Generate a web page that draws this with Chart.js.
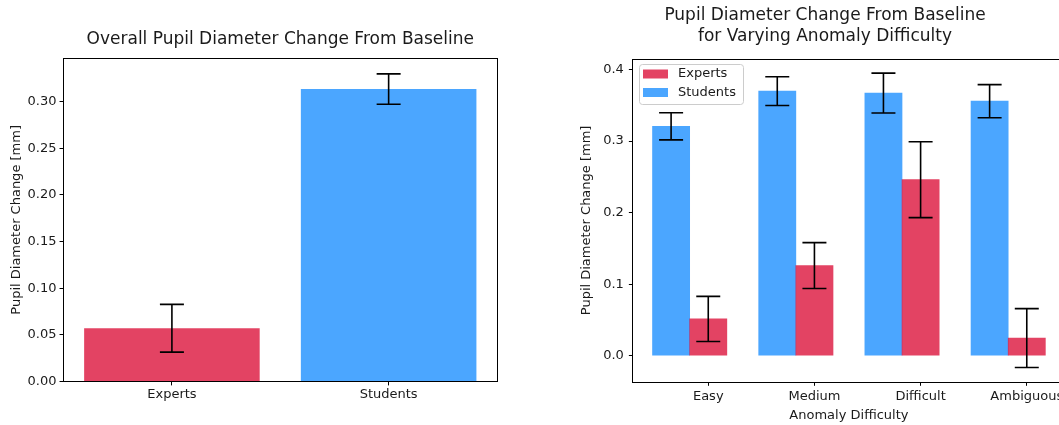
<!DOCTYPE html>
<html>
<head>
<meta charset="utf-8">
<script src="https://cdn.jsdelivr.net/npm/chart.js@4.4.0/dist/chart.umd.min.js"></script>
<style>
html, body { margin: 0; padding: 0; overflow: hidden; background: #fff; }
#overallWrap { position: absolute; left: 0; top: 0; width: 560px; height: 425px; }
#difficultyWrap { position: absolute; left: 575px; top: 0; width: 500px; height: 425px; }
</style>
</head>
<body>
<div id="overallWrap"><canvas id="overallChart" width="560" height="425"></canvas></div>
<div id="difficultyWrap"><canvas id="difficultyChart" width="500" height="425"></canvas></div>
<script>
// left panel
var groups = ['Experts', 'Students'];
var overallMeans = [0.057, 0.3136];
var overallErrors = [0.0256, 0.0163];

// right panel
var difficulties = ['Easy', 'Medium', 'Difficult', 'Ambiguous'];
var expertsMeans = [0.0515, 0.126, 0.246, 0.0247];
var expertsErrors = [0.0315, 0.032, 0.053, 0.0411];
var studentsMeans = [0.3205, 0.3697, 0.367, 0.3557];
var studentsErrors = [0.0189, 0.020, 0.0278, 0.0231];

var barWidth = 0.35;
var expertsColor = 'rgba(220, 20, 60, 0.8)';
var studentsColor = 'rgba(30, 144, 255, 0.8)';
var fontFamily = '"DejaVu Sans", sans-serif';
var textColor = '#1a1a1a';

Chart.defaults.font.family = fontFamily;
Chart.defaults.color = textColor;

// error bars with caps, drawn on top of the bars
var errorBarPlugin = {
    id: 'errorBars',
    afterDatasetsDraw: function(chart) {
        var ctx = chart.ctx;
        var yScale = chart.scales.y;
        ctx.save();
        ctx.strokeStyle = '#000';
        ctx.lineWidth = 1.6;
        chart.data.datasets.forEach(function(ds, i) {
            var meta = chart.getDatasetMeta(i);
            meta.data.forEach(function(bar, j) {
                var point = ds.data[j];
                var mean = (typeof point === 'object') ? point.y : point;
                var err = ds.errors[j];
                var top = yScale.getPixelForValue(mean + err);
                var bottom = yScale.getPixelForValue(mean - err);
                ctx.beginPath();
                ctx.moveTo(bar.x, top);
                ctx.lineTo(bar.x, bottom);
                ctx.moveTo(bar.x - 12, top);
                ctx.lineTo(bar.x + 12, top);
                ctx.moveTo(bar.x - 12, bottom);
                ctx.lineTo(bar.x + 12, bottom);
                ctx.stroke();
            });
        });
        ctx.restore();
    }
};

// full box around the plot area
var framePlugin = {
    id: 'frame',
    afterDraw: function(chart) {
        var a = chart.chartArea;
        var ctx = chart.ctx;
        ctx.save();
        ctx.strokeStyle = '#000';
        ctx.lineWidth = 1;
        ctx.strokeRect(Math.round(a.left) - 0.5, Math.round(a.top) + 0.5,
            Math.round(a.right - a.left) + 1, Math.round(a.bottom - a.top));
        ctx.restore();
    }
};

// centre the title over the plot area or over the whole canvas
var titlePlacePlugin = {
    id: 'titlePlace',
    afterLayout: function(chart, args, opts) {
        var t = chart.titleBlock;
        if (!t) return;
        if (opts.span === 'area') {
            t.left = chart.chartArea.left;
            t.right = chart.chartArea.right;
        } else {
            t.left = 0;
            t.right = chart.width;
        }
    }
};

// matplotlib style legend inside the upper left corner
var boxLegendPlugin = {
    id: 'boxLegend',
    afterDraw: function(chart) {
        var a = chart.chartArea;
        var ctx = chart.ctx;
        var x = Math.round(a.left) + 6, y = Math.round(a.top) + 5, w = 104, h = 40;
        ctx.save();
        ctx.fillStyle = 'rgba(255,255,255,0.8)';
        ctx.strokeStyle = '#cccccc';
        ctx.lineWidth = 1;
        ctx.beginPath();
        ctx.roundRect(x + 0.5, y + 0.5, w, h, 3);
        ctx.fill();
        ctx.stroke();
        ctx.font = '13px ' + fontFamily;
        ctx.textBaseline = 'middle';
        chart.data.datasets.forEach(function(ds, i) {
            var rowY = y + 10 + i * 18.5;
            ctx.fillStyle = ds.backgroundColor;
            ctx.fillRect(x + 4, rowY - 4.5, 25, 9);
            ctx.fillStyle = textColor;
            ctx.fillText(ds.label, x + 39, rowY);
        });
        ctx.restore();
    }
};

function tickGrid() {
    return { display: true, offset: false, drawOnChartArea: false, drawTicks: true, tickLength: 4, color: '#000', lineWidth: 1 };
}

new Chart(document.getElementById('overallChart'), {
    type: 'bar',
    data: {
        labels: groups,
        datasets: [{
            data: overallMeans,
            errors: overallErrors,
            backgroundColor: [expertsColor, studentsColor],
            borderWidth: 0,
            barPercentage: 0.81,
            categoryPercentage: 1
        }]
    },
    options: {
        responsive: false,
        animation: false,
        layout: { padding: { left: 0, right: 63, top: 0, bottom: 22 } },
        plugins: {
            legend: { display: false },
            tooltip: { enabled: false },
            titlePlace: { span: 'area' },
            title: {
                display: true,
                text: 'Overall Pupil Diameter Change From Baseline',
                color: textColor,
                font: { size: 17, weight: 'normal', lineHeight: 1.3 },
                padding: { top: 29, bottom: 7.2 }
            }
        },
        scales: {
            x: {
                offset: true,
                grid: tickGrid(),
                border: { display: false },
                ticks: { font: { size: 13 }, padding: 1, color: textColor }
            },
            y: {
                min: 0,
                max: 0.3466,
                grid: tickGrid(),
                border: { display: false },
                ticks: {
                    stepSize: 0.05,
                    includeBounds: false,
                    padding: 3,
                    font: { size: 13 },
                    color: textColor,
                    callback: function(v) { return v.toFixed(2); }
                },
                title: {
                    display: true,
                    text: 'Pupil Diameter Change [mm]',
                    color: textColor,
                    font: { size: 13 },
                    padding: { top: 9, bottom: 0 }
                }
            }
        }
    },
    plugins: [errorBarPlugin, framePlugin, titlePlacePlugin]
});

new Chart(document.getElementById('difficultyChart'), {
    type: 'bar',
    data: {
        datasets: [{
            label: 'Experts',
            data: difficulties.map(function(d, i) { return { x: i, y: expertsMeans[i] }; }),
            errors: expertsErrors,
            backgroundColor: expertsColor,
            borderWidth: 0
        }, {
            label: 'Students',
            data: difficulties.map(function(d, i) { return { x: i - barWidth, y: studentsMeans[i] }; }),
            errors: studentsErrors,
            backgroundColor: studentsColor,
            borderWidth: 0
        }]
    },
    options: {
        responsive: false,
        animation: false,
        grouped: false,
        barPercentage: 1,
        categoryPercentage: 1,
        layout: { padding: { left: 0, right: 10, top: 0, bottom: 0 } },
        plugins: {
            legend: { display: false },
            tooltip: { enabled: false },
            titlePlace: { span: 'canvas' },
            title: {
                display: true,
                text: ['Pupil Diameter Change From Baseline', 'for Varying Anomaly Difficulty'],
                color: textColor,
                font: { size: 17, weight: 'normal', lineHeight: 1.235 },
                padding: { top: 5, bottom: 12 }
            }
        },
        scales: {
            x: {
                type: 'linear',
                min: -0.71,
                max: 3.36,
                offset: false,
                grid: tickGrid(),
                border: { display: false },
                ticks: {
                    stepSize: 1,
                    includeBounds: false,
                    padding: 3,
                    font: { size: 13 },
                    color: textColor,
                    callback: function(v) { return difficulties[v] || ''; }
                },
                title: {
                    display: true,
                    text: 'Anomaly Difficulty',
                    color: textColor,
                    font: { size: 13 },
                    padding: { top: 0, bottom: 2 }
                }
            },
            y: {
                min: -0.0364,
                max: 0.4146,
                grid: tickGrid(),
                border: { display: false },
                ticks: {
                    stepSize: 0.1,
                    includeBounds: false,
                    padding: 5,
                    font: { size: 13 },
                    color: textColor,
                    callback: function(v) { return v.toFixed(1); }
                },
                title: {
                    display: true,
                    text: 'Pupil Diameter Change [mm]',
                    color: textColor,
                    font: { size: 13 },
                    padding: { top: 4, bottom: 3.6 }
                }
            }
        }
    },
    plugins: [errorBarPlugin, framePlugin, titlePlacePlugin, boxLegendPlugin]
});
</script>
</body>
</html>
